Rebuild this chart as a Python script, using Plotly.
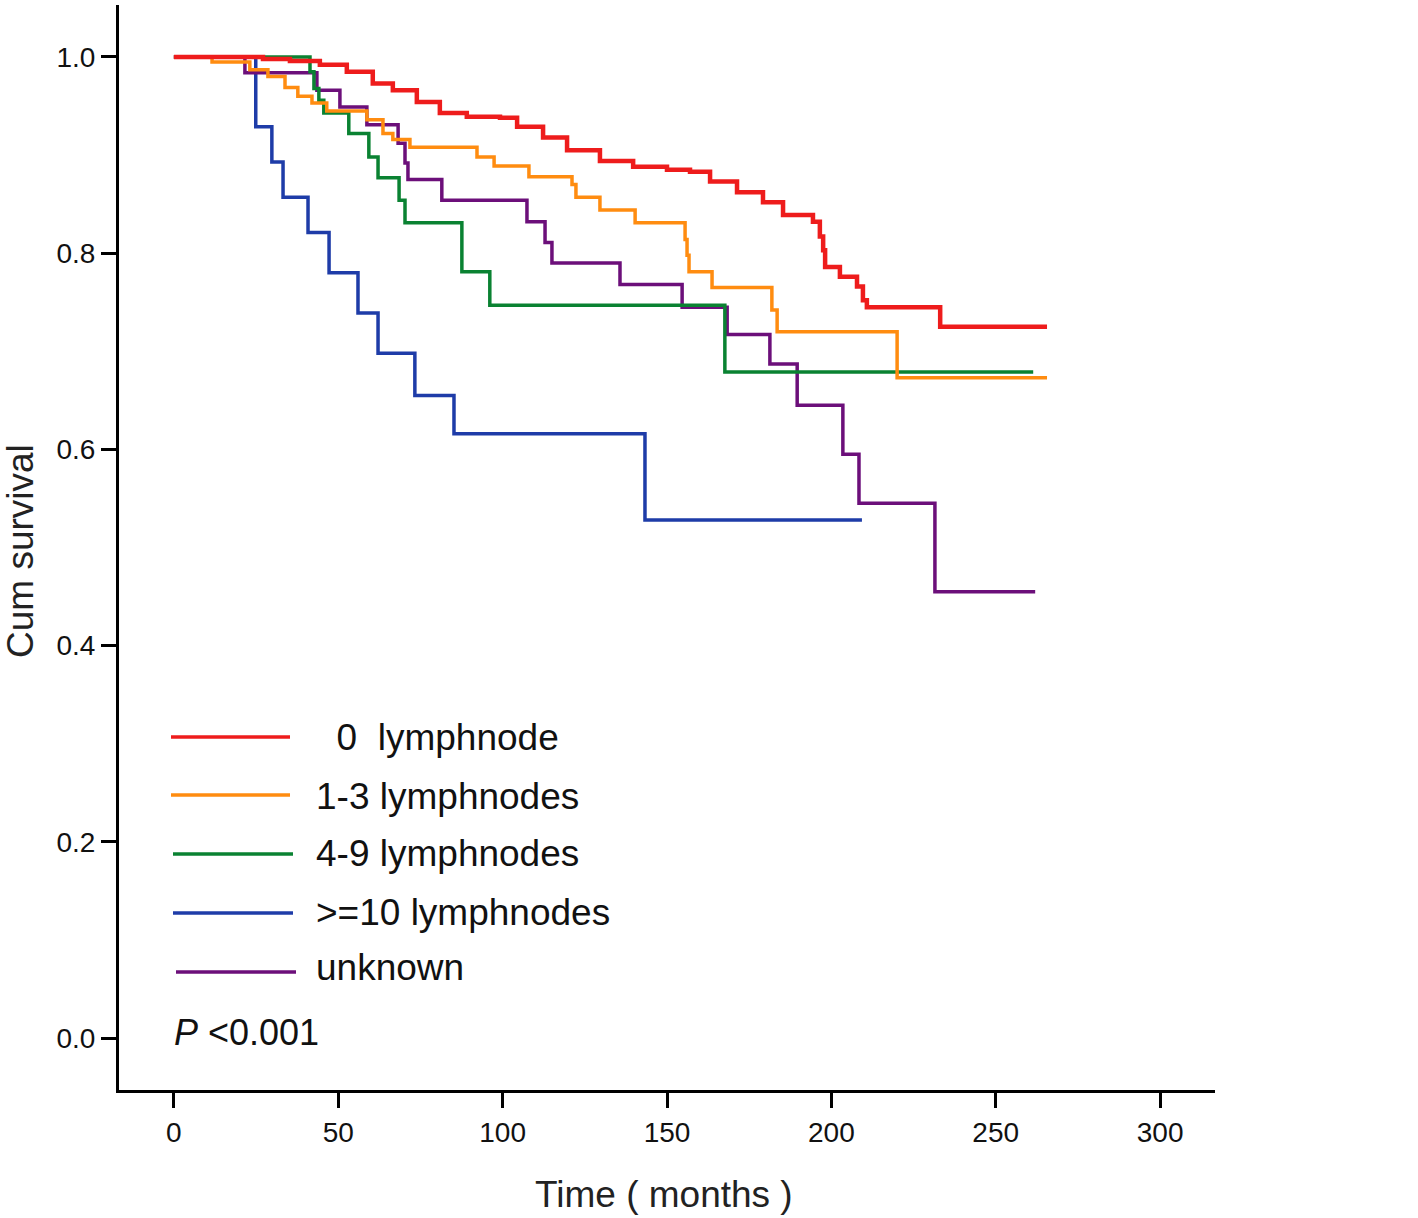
import plotly.graph_objects as go

# ---- data ----
# Each group: step times (months) where survival drops, survival after each drop, last follow-up time
red_time = [27.1, 35.3, 44.4, 52.6, 60.5, 66.6, 73.9, 80.9, 89.1, 99.2, 104.4, 112.3, 119.6,
            129.6, 139.7, 150.0, 157.0, 163.1, 171.3, 179.2, 185.3, 194.4, 196.5, 197.5,
            198.1, 202.6, 207.8, 209.6, 210.8, 233.1]
red_surv = [0.998, 0.996, 0.992, 0.985, 0.973, 0.966, 0.954, 0.943, 0.939, 0.938, 0.929, 0.918,
            0.905, 0.894, 0.888, 0.885, 0.883, 0.873, 0.862, 0.852, 0.839, 0.832, 0.817, 0.803,
            0.786, 0.776, 0.766, 0.752, 0.745, 0.725]
red_end = 265.6

orange_time = [11.6, 23.1, 28.6, 33.8, 37.7, 42.0, 46.5, 58.7, 63.6, 66.6, 71.8, 92.2, 97.4,
               108.0, 121.1, 122.3, 129.6, 140.3, 155.5, 156.1, 156.7, 163.7, 181.9, 183.5, 220.0]
orange_surv = [0.995, 0.987, 0.980, 0.969, 0.960, 0.953, 0.945, 0.936, 0.922, 0.916, 0.908,
               0.898, 0.889, 0.878, 0.870, 0.857, 0.844, 0.831, 0.814, 0.798, 0.781, 0.765,
               0.742, 0.720, 0.673]
orange_end = 265.6

green_time = [41.4, 42.6, 44.1, 45.6, 53.2, 59.3, 62.1, 68.5, 70.3, 87.6, 96.1, 167.6]
green_surv = [0.985, 0.968, 0.956, 0.943, 0.922, 0.898, 0.877, 0.854, 0.831, 0.781, 0.747, 0.679]
green_end = 261.4

blue_time = [24.9, 29.8, 33.2, 40.8, 47.2, 56.0, 62.1, 73.3, 85.2, 143.3]
blue_surv = [0.929, 0.893, 0.857, 0.821, 0.780, 0.739, 0.698, 0.655, 0.616, 0.528]
blue_end = 209.3

purple_time = [21.6, 43.5, 50.5, 58.7, 68.2, 70.3, 71.2, 81.5, 107.4, 112.9, 115.0, 135.7,
               154.6, 168.3, 181.3, 189.6, 203.5, 208.4, 231.5]
purple_surv = [0.984, 0.966, 0.949, 0.931, 0.912, 0.892, 0.875, 0.854, 0.832, 0.811, 0.790,
               0.768, 0.745, 0.717, 0.687, 0.645, 0.595, 0.545, 0.455]
purple_end = 262.0

labels = ["\u00a0\u00a00\u00a0\u00a0lymphnode", "1-3 lymphnodes", "4-9 lymphnodes",
          ">=10 lymphnodes", "unknown"]
colors = ["#ee1c1c", "#ff8c10", "#0a8232", "#1e3ca8", "#6c0f7a"]

x_ticks = [0, 50, 100, 150, 200, 250, 300]
y_ticks = [0.0, 0.2, 0.4, 0.6, 0.8, 1.0]

groups = [
    (red_time, red_surv, red_end),
    (orange_time, orange_surv, orange_end),
    (green_time, green_surv, green_end),
    (blue_time, blue_surv, blue_end),
    (purple_time, purple_surv, purple_end),
]

FONT = "Liberation Sans, Arial, sans-serif"

# ---- figure geometry ----
W, H = 1418, 1218
ML, MR, MT, MB = 119, 203, 5, 128
PW, PH = W - ML - MR, H - MT - MB


def px(xp):
    return (xp - ML) / PW


def py(yp):
    return (H - MB - yp) / PH


fig = go.Figure()

draw_order = [3, 4, 2, 1, 0]
for i in draw_order:
    t, s, end = groups[i]
    xs = [0] + list(t) + [end]
    ys = [1.0] + list(s) + [s[-1]]
    fig.add_trace(go.Scatter(
        x=xs, y=ys, mode="lines", line=dict(shape="hv", color=colors[i],
                                            width=4.5 if i == 0 else 3.5),
        name=labels[i], showlegend=False, hoverinfo="skip"))

# ---- manual legend (long line samples like the reference) ----
legend_rows = [737, 795, 854, 913, 972]
text_rows = [737, 796, 853, 912, 967]
line_x = [(171, 290), (171, 290), (173, 293), (173, 293), (176, 296)]
shapes = []
annotations = []
for k, yp in enumerate(legend_rows):
    x0, x1 = line_x[k]
    shapes.append(dict(type="line", xref="paper", yref="paper",
                       x0=px(x0), x1=px(x1), y0=py(yp), y1=py(yp),
                       line=dict(color=colors[k], width=3.5)))
    annotations.append(dict(xref="paper", yref="paper", x=px(314), y=py(text_rows[k]),
                            xanchor="left", yanchor="middle", showarrow=False,
                            text=labels[k], font=dict(family=FONT, size=37, color="#111")))

annotations.append(dict(xref="paper", yref="paper", x=px(172), y=py(1032),
                        xanchor="left", yanchor="middle", showarrow=False,
                        text="<i>P</i> &lt;0.001", font=dict(family=FONT, size=36, color="#111")))
annotations.append(dict(xref="paper", yref="paper", x=px(664), y=py(1194),
                        xanchor="center", yanchor="middle", showarrow=False,
                        text="Time ( months )", font=dict(family=FONT, size=37, color="#222")))
annotations.append(dict(xref="paper", yref="paper", x=px(20), y=py(551),
                        xanchor="center", yanchor="middle", showarrow=False, textangle=-90,
                        text="Cum survival", font=dict(family=FONT, size=37, color="#222")))

fig.update_layout(
    width=W, height=H,
    margin=dict(l=ML, r=MR, t=MT, b=MB, pad=0),
    paper_bgcolor="white", plot_bgcolor="white",
    shapes=shapes, annotations=annotations,
    showlegend=False,
)

fig.update_xaxes(
    range=[-16.7, 316.7], tickvals=x_ticks, ticktext=[str(v) for v in x_ticks],
    showgrid=False, zeroline=False, showline=True, linecolor="black", linewidth=3,
    ticks="outside", ticklen=15, tickwidth=3, tickcolor="black",
    tickfont=dict(family=FONT, size=28, color="#111"),
)
fig.update_yaxes(
    range=[-0.053, 1.053], tickvals=y_ticks, ticktext=[f"{v:.1f}" for v in y_ticks],
    showgrid=False, zeroline=False, showline=True, linecolor="black", linewidth=3,
    ticks="outside", ticklen=15, tickwidth=3, tickcolor="black",
    tickfont=dict(family=FONT, size=28, color="#111"),
)

fig.write_html(
    "out.html",
    config={"displayModeBar": False},
    post_script="document.body.style.margin='0';document.body.style.overflow='hidden';",
)
